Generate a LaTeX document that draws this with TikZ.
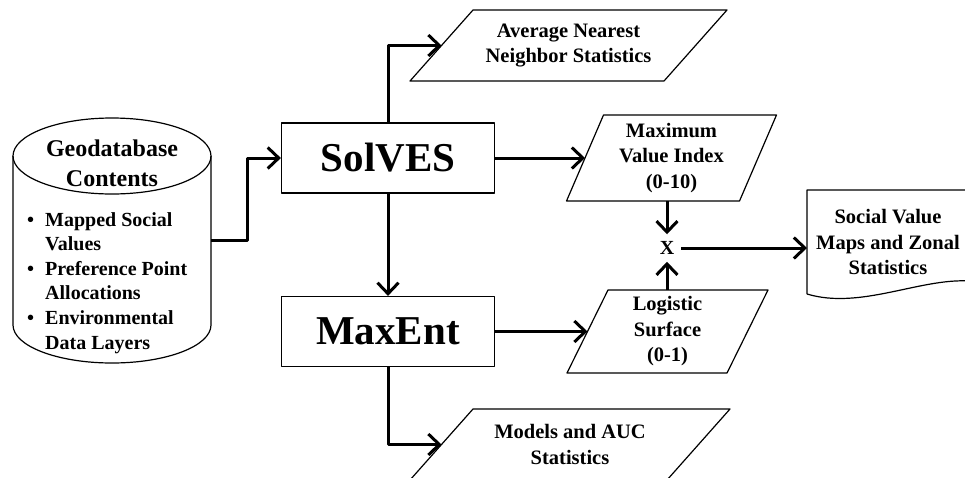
\documentclass[tikz,border=0pt]{standalone}
\usepackage{fontspec}
\setmainfont{Liberation Serif}
\usetikzlibrary{arrows.meta}

\begin{document}
\begin{tikzpicture}[x=1pt,y=-1pt,line join=round,
	>={Straight Barb[length=11pt,width=21pt]},
	flow/.style={->,line width=3pt},
	rim/.style={line width=1.2pt},
	proc/.style={draw,rim,minimum width=213pt,minimum height=70pt,font=\bfseries\fontsize{41}{45}\selectfont},
	io/.style={align=center,inner sep=0pt,outer sep=0pt,font=\bfseries\fontsize{20.5}{25.5}\selectfont}]
	\useasboundingbox (0,0) rectangle (965,477);
	% geodatabase cylinder
	\node[minimum width=198pt,minimum height=245pt,outer sep=0pt] (db) at (112,240.5) {};
	\draw[rim] ([yshift=-38pt]db.north west) -- ([yshift=38pt]db.south west)
		arc[start angle=180,end angle=360,x radius=99pt,y radius=38pt] -- ([yshift=-38pt]db.north east);
	\draw[rim] ([yshift=-38pt]db.north) ellipse[x radius=99pt,y radius=38pt];
	\node[align=center,font=\bfseries\fontsize{24}{30}\selectfont] (geo) at (112,163) {Geodatabase\\Contents};
	\node[anchor=base west,inner sep=0pt,font=\bfseries\fontsize{20}{24.6}\selectfont] (items) at (27,226)
		{\begin{tabular}[t]{@{}l@{\hspace{11pt}}l@{}}
			\textbullet & Mapped Social\\ & Values\\
			\textbullet & Preference Point\\ & Allocations\\
			\textbullet & Environmental\\ & Data Layers
		\end{tabular}};
	% models
	\node[proc] (solves) at (388,158) {SolVES};
	\node[proc] (maxent) at (388,331.5) {MaxEnt};
	% outputs
	\node[io,minimum width=254pt,minimum height=71pt] (avg) at (568.5,45.5) {Average Nearest\\Neighbor Statistics};
	\node[io,minimum width=173pt,minimum height=86pt] (mvi) at (671.5,158) {Maximum\\Value Index\\(0-10)};
	\node[io,minimum width=160pt,minimum height=83pt] (logit) at (667.5,331.5) {Logistic\\Surface\\(0-1)};
	\node[io,minimum width=257pt,minimum height=71pt] (auc) at (570,444.5) {Models and AUC\\Statistics};
	\foreach \n/\s in {avg/31.5,mvi/18.5,logit/20.5,auc/31.5}
		\draw[rim] ([xshift=\s pt]\n.north west) -- ([xshift=\s pt]\n.north east)
			-- ([xshift=-\s pt]\n.south east) -- ([xshift=-\s pt]\n.south west) -- cycle;
	\node[font=\bfseries\fontsize{20}{24}\selectfont,inner sep=7pt] (mult) at (667,248) {X};
	\node[io,minimum width=162pt,minimum height=104pt] (svm) at (888,242) {Social Value\\Maps and Zonal\\Statistics};
	\draw[rim] (svm.south west) -- (svm.north west) -- (svm.north east) -- (969,281)
		.. controls (920,278) and (860,310) .. (svm.south west);
	% arrows
	\draw[flow] (db.east) -- ++(36,0) |- (solves.west);
	\draw[flow] (solves.north) |- (avg.west);
	\draw[flow] (solves.east) -- (mvi.west);
	\draw[flow] (solves) -- (maxent);
	\draw[flow] (maxent.east) -- (logit.west);
	\draw[flow] (maxent.south) |- (auc.west);
	\draw[flow] (mvi.south -| mult) -- (mult);
	\draw[flow] (logit.north -| mult) -- (mult);
	\draw[flow] (mult) -- (mult -| svm.west);
\end{tikzpicture}
\end{document}
